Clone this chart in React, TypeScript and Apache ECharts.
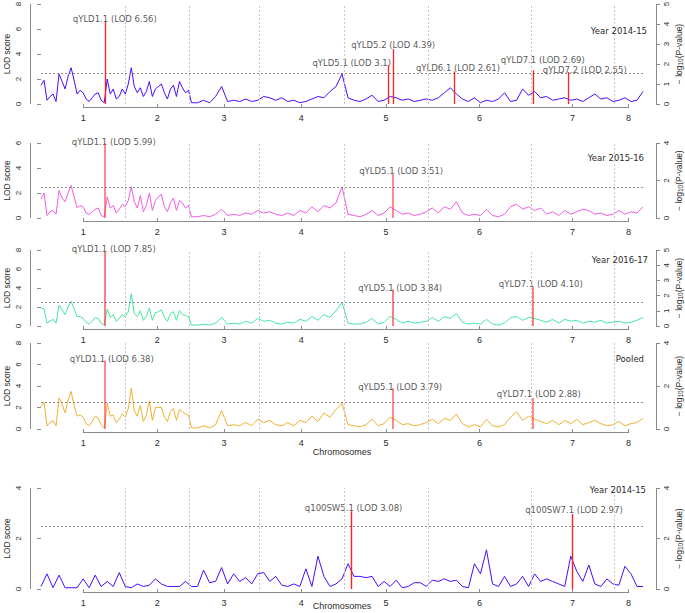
import React, { useEffect, useRef } from "react";
import * as echarts from "echarts";

// ---------- data ----------
const chromLabels = ["1", "2", "3", "4", "5", "6", "7", "8"];
const chromLengths = [140, 106, 116, 141, 140, 171, 138, 48];
const markerStep = 10; // marker spacing of the main scan
const lodThreshold = 2.5;

// main scan, one value every markerStep
const lodYld1415 = [
  1.5, 0.3, 0.8, 2.4, 1.2, 2.9, 0.8, 0.9, 0.2, 0.8,
  0.3, 2.0, 1.2, 0.6, 0.8, 2.9, 0.9, 0.6, 1.8, 1.2,
  1.6, 0.4, 1.5, 1.8, 0.9, 0.1, 0.1, 0.3, 0.1, 0.6,
  1.4, 0.2, 0.3, 0.2, 0.4, 0.2, 0.3, 0.6, 0.5, 0.3,
  0.5, 0.2, 0.3, 0.1, 0.2, 0.4, 0.6, 0.5, 1.0, 1.4,
  2.4, 0.5, 0.3, 0.2, 0.4, 0.7, 0.2, 0.3, 0.6, 0.5,
  0.3, 0.4, 0.2, 0.3, 0.4, 0.3, 0.5, 0.9, 1.3, 0.8,
  0.4, 0.2, 0.5, 0.1, 0.3, 0.2, 0.4, 0.9, 0.2, 0.3,
  1.2, 0.7, 1.0, 0.5, 0.6, 0.3, 0.4, 0.5, 0.3, 0.4,
  0.2, 0.5, 0.8, 0.4, 0.5, 0.2, 0.3, 0.5, 0.2, 0.3,
  1.0,
];
// extra markers in the dense chromosome 1-2 region (half-way between main markers)
const lodYld1415Dense = [
  1.9, 0.6, 0.2, 1.8, 2.2, 1.9, 1.1, 0.4, 0.5, 0.9,
  0.1, 0.8, 0.4, 1.2, 1.6, 1.4, 1.3, 1.0, 0.6, 1.4,
  0.9, 1.2, 0.6, 1.3, 1.1,
];

const lodYld1516 = [
  1.5, 0.2, 0.6, 2.2, 1.3, 2.6, 0.8, 0.9, 0.3, 0.7,
  0.2, 1.7, 1.0, 0.7, 0.9, 2.5, 0.8, 0.5, 2.0, 1.4,
  1.9, 0.5, 1.6, 1.4, 0.8, 0.1, 0.1, 0.2, 0.1, 0.3,
  0.7, 0.2, 0.3, 0.2, 0.4, 0.3, 0.6, 0.4, 0.5, 0.3,
  0.2, 0.4, 0.2, 0.6, 0.4, 0.9, 0.5, 1.0, 0.8, 1.2,
  2.5, 0.3, 0.2, 0.1, 0.3, 0.6, 0.2, 0.4, 0.9, 0.6,
  0.3, 0.4, 0.2, 0.3, 0.5, 0.8, 0.4, 0.9, 0.7, 1.3,
  0.4, 0.2, 0.3, 0.2, 0.7, 0.2, 0.1, 0.3, 0.9, 1.1,
  0.7, 0.9, 0.6, 0.8, 0.3, 0.5, 0.2, 0.6, 0.3, 0.5,
  0.7, 0.6, 0.3, 0.4, 0.2, 0.3, 0.6, 0.3, 0.5, 0.4,
  0.9,
];
const lodYld1516Dense = [
  2.0, 0.5, 0.3, 1.6, 2.0, 1.7, 1.0, 0.4, 0.5, 0.8,
  0.1, 0.8, 0.4, 1.1, 1.4, 1.3, 1.8, 1.0, 0.6, 1.7,
  0.9, 1.2, 0.6, 1.2, 1.0,
];

const lodYld1617 = [
  1.9, 0.3, 0.7, 2.2, 1.2, 2.6, 1.0, 0.8, 0.2, 0.9,
  0.3, 1.8, 1.2, 0.8, 1.0, 3.4, 1.0, 0.6, 1.9, 1.4,
  1.7, 0.5, 1.5, 1.6, 1.1, 0.1, 0.1, 0.2, 0.1, 0.3,
  0.9, 0.2, 0.3, 0.2, 0.5, 0.3, 0.8, 0.5, 0.6, 0.3,
  0.2, 0.4, 0.3, 0.7, 0.5, 1.0, 0.6, 1.2, 0.9, 1.6,
  2.5, 0.3, 0.2, 0.2, 0.4, 0.8, 0.2, 0.4, 1.0, 0.7,
  0.3, 0.5, 0.3, 0.4, 0.5, 0.9, 0.5, 1.0, 0.8, 1.3,
  0.4, 0.2, 0.3, 0.2, 0.7, 0.2, 0.1, 0.3, 0.9, 1.0,
  0.6, 0.9, 0.8, 0.6, 0.4, 0.7, 0.3, 0.7, 0.5, 0.6,
  0.3, 0.5, 0.4, 0.6, 0.3, 0.4, 0.5, 0.3, 0.4, 0.6,
  0.9,
];
const lodYld1617Dense = [
  1.8, 0.5, 0.3, 1.7, 2.0, 1.8, 1.0, 0.4, 0.5, 0.8,
  0.1, 0.9, 0.5, 1.2, 1.5, 1.3, 1.6, 1.0, 0.6, 1.5,
  0.9, 1.3, 0.6, 1.2, 1.0,
];

const lodYldPooled = [
  2.1, 0.3, 0.8, 2.9, 1.5, 3.5, 1.2, 1.1, 0.3, 1.2,
  0.4, 2.4, 1.3, 0.9, 1.1, 3.8, 1.2, 0.7, 2.6, 2.0,
  2.0, 0.7, 1.9, 1.8, 1.4, 0.1, 0.1, 0.3, 0.1, 0.4,
  1.7, 0.3, 0.4, 0.3, 0.6, 0.3, 0.9, 0.6, 0.8, 0.4,
  0.3, 0.6, 0.3, 0.8, 0.6, 1.2, 0.7, 1.5, 1.1, 1.8,
  2.4, 0.4, 0.3, 0.2, 0.4, 0.9, 0.3, 0.5, 1.1, 0.8,
  0.4, 0.5, 0.3, 0.4, 0.6, 0.9, 0.5, 1.0, 0.8, 1.4,
  0.5, 0.2, 0.4, 0.2, 0.9, 0.3, 0.2, 0.4, 1.1, 1.6,
  0.8, 1.2, 0.9, 0.7, 0.5, 0.8, 0.4, 0.8, 0.5, 0.9,
  0.4, 0.6, 0.8, 0.5, 0.3, 0.4, 0.7, 0.3, 0.5, 0.6,
  1.0,
];
const lodYldPooledDense = [
  2.5, 0.6, 0.3, 2.3, 2.7, 2.2, 1.3, 0.5, 0.7, 1.0,
  0.1, 1.2, 0.6, 1.4, 1.9, 1.7, 2.2, 1.3, 0.8, 2.0,
  1.1, 1.6, 0.8, 1.6, 1.3,
];

const lod100sw1415 = [
  0.1, 0.6, 0.05, 0.55, 0.05, 0.05, 0.05, 0.4, 0.05, 0.55,
  0.1, 0.3, 0.1, 0.65, 0.1, 0.05, 0.2, 0.1, 0.15, 0.4,
  0.2, 0.1, 0.1, 0.1, 0.3, 0.1, 0.1, 0.75, 0.25, 0.3,
  0.85, 0.2, 0.6, 0.3, 0.45, 0.2, 0.6, 0.65, 0.3, 0.5,
  0.15, 0.1, 0.2, 0.1, 0.8, 0.1, 1.3, 0.5, 0.1, 0.2,
  0.4, 1.0, 0.5, 0.5, 0.45, 0.5, 0.1, 0.3, 0.1, 0.35,
  0.05, 0.1, 0.25, 0.25, 0.1, 0.35, 0.3, 0.4, 0.3, 0.35,
  0.1, 0.05, 1.0, 0.6, 1.55, 0.2, 0.1, 0.5, 0.1, 0.2,
  0.5, 0.1, 0.6, 0.3, 0.4, 0.3, 0.2, 0.1, 1.3, 0.7,
  0.3, 0.95, 0.2, 0.1, 0.4, 0.2, 0.15, 0.9, 0.6, 0.1,
  0.1,
];
const lod100sw1415Dense: number[] = [];

const qtl1Names = ["qYLD1.1", "qYLD5.1", "qYLD5.2", "qYLD6.1", "qYLD7.1", "qYLD7.2"];
const qtl1Pos = [106, 576, 585, 686, 817, 875];
const qtl1Lod = ["6.56", "3.1", "4.39", "2.61", "2.69", "2.55"];

const qtl2Names = ["qYLD1.1", "qYLD5.1"];
const qtl2Pos = [106, 585];
const qtl2Lod = ["5.99", "3.51"];

const qtl3Names = ["qYLD1.1", "qYLD5.1", "qYLD7.1"];
const qtl3Pos = [106, 585, 817];
const qtl3Lod = ["7.85", "3.84", "4.10"];

const qtl4Names = ["qYLD1.1", "qYLD5.1", "qYLD7.1"];
const qtl4Pos = [106, 585, 817];
const qtl4Lod = ["6.38", "3.79", "2.88"];

const qtl5Names = ["q100SW5.1", "q100SW7.1"];
const qtl5Pos = [516, 882];
const qtl5Lod = ["3.08", "2.97"];

// ---------- layout / style ----------
const W = 685;
const H = 613;
const GRID_LEFT = 41;
const GRID_RIGHT = 42;
const X_OFFSET = 3;
const YL_OFFSET = 11;
const YR_OFFSET = 13;
const AXIS_GREY = "#8a8a8a";
const TXT = "#2a2a2a";
const LABEL_FONT = "DejaVu Sans";
const AXIS_FONT = "Liberation Sans";

const panels = [
  {
    tag: "Year 2014-15", values: lodYld1415, dense: lodYld1415Dense, color: "#4b0aff",
    top: 4, height: 100, lodMax: 8, pMax: 5, pTicks: [0, 1, 2, 3, 4, 5],
    tagTop: 26, tagRight: 38,
    names: qtl1Names, pos: qtl1Pos, lods: qtl1Lod,
    offsets: [[10, 3], [-36, 3], [0, 1], [4, 2], [10, -5], [17, 3]],
    qtlColor: "#ff2020", qtlWidth: 1.3, xName: "", xNameGap: 0,
  },
  {
    tag: "Year 2015-16", values: lodYld1516, dense: lodYld1516Dense, color: "#f25ce2",
    top: 143, height: 75, lodMax: 6, pMax: 4, pTicks: [0, 2, 4],
    tagTop: 153, tagRight: 41,
    names: qtl2Names, pos: qtl2Pos, lods: qtl2Lod,
    offsets: [[9, 4], [8, 2]],
    qtlColor: "rgba(255,60,60,0.6)", qtlWidth: 2, xName: "", xNameGap: 0,
  },
  {
    tag: "Year 2016-17", values: lodYld1617, dense: lodYld1617Dense, color: "#45e6a2",
    top: 250, height: 76, lodMax: 8, pMax: 5, pTicks: [0, 1, 2, 3, 4, 5],
    tagTop: 255, tagRight: 37,
    names: qtl3Names, pos: qtl3Pos, lods: qtl3Lod,
    offsets: [[9, 3], [7, 4], [8, 2]],
    qtlColor: "rgba(255,40,40,0.75)", qtlWidth: 1.6, xName: "", xNameGap: 0,
  },
  {
    tag: "Pooled", values: lodYldPooled, dense: lodYldPooledDense, color: "#f0b030",
    top: 343, height: 86, lodMax: 8, pMax: 4, pTicks: [0, 2, 4],
    tagTop: 354, tagRight: 41,
    names: qtl4Names, pos: qtl4Pos, lods: qtl4Lod,
    offsets: [[7, 4], [7, 4], [6, 1]],
    qtlColor: "rgba(255,60,60,0.6)", qtlWidth: 2, xName: "Chromosomes", xNameGap: 15,
  },
  {
    tag: "Year 2014-15", values: lod100sw1415, dense: lod100sw1415Dense, color: "#4b0aff",
    top: 488, height: 101, lodMax: 4, pMax: 4, pTicks: [0, 2, 4],
    tagTop: 485, tagRight: 39,
    names: qtl5Names, pos: qtl5Pos, lods: qtl5Lod,
    offsets: [[2, 2], [2, 1]],
    qtlColor: "#ff2020", qtlWidth: 1.4, xName: "Chromosomes", xNameGap: 9,
  },
];

// chromosome boundaries and midpoints (cumulative positions)
const chromStarts: number[] = [];
chromLengths.reduce((acc, len) => { chromStarts.push(acc); return acc + len; }, 0);
const genomeEnd = chromLengths.reduce((a, b) => a + b, 0);
const chromMids = chromLengths.map((len, k) => chromStarts[k] + len / 2);
const chromBounds = chromStarts.slice(1);

function scanPoints(values: number[], dense: number[]) {
  const pts = [
    ...values.map((v, k) => [k * markerStep, v]),
    ...dense.map((v, k) => [k * markerStep + markerStep / 2, v]),
  ];
  return pts.sort((a, b) => a[0] - b[0]);
}

function buildOption() {
  const grid: any[] = [];
  const xAxis: any[] = [];
  const yAxis: any[] = [];
  const series: any[] = [];
  const title: any[] = [];

  panels.forEach((p, i) => {
    grid.push({
      left: GRID_LEFT, right: GRID_RIGHT, top: p.top, height: p.height,
      containLabel: false, outerBoundsMode: "none",
    });
    xAxis.push({
      gridIndex: i, type: "value", min: 0, max: genomeEnd, offset: X_OFFSET,
      axisLine: { show: false },
      axisTick: { show: true, length: 4, customValues: chromMids, lineStyle: { color: AXIS_GREY } },
      axisLabel: {
        show: true, customValues: chromMids, margin: 6, fontSize: 9, color: TXT, fontFamily: AXIS_FONT,
        formatter: (v: number) => {
          const k = chromMids.findIndex((m) => Math.abs(m - v) < 0.5);
          return k >= 0 ? chromLabels[k] : "";
        },
      },
      splitLine: { show: false },
      name: p.xName, nameLocation: "middle", nameGap: p.xNameGap, nameMoveOverlap: false,
      nameTextStyle: { fontSize: 9, color: TXT, fontFamily: AXIS_FONT },
    });
    yAxis.push({
      gridIndex: i, type: "value", min: 0, max: p.lodMax, interval: 2, position: "left", offset: YL_OFFSET,
      axisLine: { show: false },
      axisTick: { show: true, length: 4, lineStyle: { color: AXIS_GREY } },
      axisLabel: {
        rotate: 90, margin: 12, fontSize: 8, color: TXT, fontFamily: AXIS_FONT,
        align: "center", verticalAlign: "middle",
      },
      splitLine: { show: false },
      name: "LOD score", nameLocation: "middle", nameGap: 19, nameRotate: 90, nameMoveOverlap: false,
      nameTextStyle: { fontSize: 8.5, color: TXT, fontFamily: AXIS_FONT },
    });
    yAxis.push({
      gridIndex: i, type: "value", min: 0, max: p.pMax, position: "right", offset: YR_OFFSET,
      axisLine: { show: false },
      axisTick: { show: true, length: 4, customValues: p.pTicks, lineStyle: { color: AXIS_GREY } },
      axisLabel: {
        customValues: p.pTicks, rotate: 90, margin: 10, fontSize: 8, color: TXT, fontFamily: AXIS_FONT,
        align: "center", verticalAlign: "middle",
      },
      splitLine: { show: false },
      name: "{a|− log}{b|10}{a|(P-value)}", nameLocation: "middle", nameGap: 17, nameRotate: 90,
      nameMoveOverlap: false,
      nameTextStyle: {
        color: TXT, fontFamily: AXIS_FONT,
        rich: {
          a: { fontSize: 8.5, color: TXT, fontFamily: AXIS_FONT, lineHeight: 11 },
          b: { fontSize: 6.5, color: TXT, fontFamily: AXIS_FONT, verticalAlign: "bottom", lineHeight: 11 },
        },
      },
    });

    series.push({
      type: "line", xAxisIndex: i, yAxisIndex: 2 * i,
      data: scanPoints(p.values, p.dense),
      showSymbol: false, symbol: "none",
      lineStyle: { color: p.color, width: 1 }, itemStyle: { color: p.color },
      z: 2,
      markLine: {
        silent: true, symbol: ["none", "none"], label: { show: false },
        data: [
          ...chromBounds.map((b) => ({ xAxis: b, lineStyle: { type: [2, 2], color: "#c4c4c4", width: 1 } })),
          { yAxis: lodThreshold, lineStyle: { type: [2, 2], color: "#8c8c8c", width: 1 } },
        ],
      },
    });

    series.push({
      type: "scatter", xAxisIndex: i, yAxisIndex: 2 * i,
      symbol: "circle", symbolSize: 0.01, itemStyle: { color: "transparent" },
      z: 4,
      data: p.names.map((n, k) => ({
        value: [p.pos[k], Number(p.lods[k])],
        label: {
          show: true, position: "top", distance: 1, offset: p.offsets[k],
          formatter: `${n} (LOD ${p.lods[k]})`,
          fontSize: 8.5, fontFamily: LABEL_FONT, color: TXT,
        },
      })),
      markLine: {
        silent: true, symbol: ["none", "none"], label: { show: false },
        lineStyle: { color: p.qtlColor, width: p.qtlWidth, type: "solid" },
        data: p.names.map((_, k) => [
          { coord: [p.pos[k], 0] },
          { coord: [p.pos[k], Number(p.lods[k])] },
        ]),
      },
    });

    title.push({
      text: p.tag, right: p.tagRight, top: p.tagTop, padding: 0,
      textStyle: { fontSize: 8.5, fontWeight: "normal", fontFamily: LABEL_FONT, color: TXT },
    });
  });

  return { animation: false, backgroundColor: "#ffffff", title, grid, xAxis, yAxis, series };
}

export default function App() {
  const ref = useRef<HTMLDivElement | null>(null);
  useEffect(() => {
    if (!ref.current) return;
    const chart = echarts.init(ref.current, null, { renderer: "svg", width: W, height: H });
    chart.setOption(buildOption() as any);

    // R-style axis lines: from first to last tick, computed via the chart's own scales
    const gfx: any[] = [];
    const ls = { stroke: AXIS_GREY, lineWidth: 1 };
    panels.forEach((p, i) => {
      const xp = (v: number) => chart.convertToPixel({ xAxisIndex: i } as any, v) as number;
      const yl = (v: number) => chart.convertToPixel({ yAxisIndex: 2 * i } as any, v) as number;
      const yr = (v: number) => chart.convertToPixel({ yAxisIndex: 2 * i + 1 } as any, v) as number;
      const yBase = Math.round(yl(0) + X_OFFSET) + 0.5;
      gfx.push({ type: "line", silent: true, shape: { x1: xp(chromMids[0]), y1: yBase, x2: xp(chromMids[chromMids.length - 1]), y2: yBase }, style: ls });
      const xL = Math.round(xp(0) - YL_OFFSET) + 0.5;
      gfx.push({ type: "line", silent: true, shape: { x1: xL, y1: yl(0), x2: xL, y2: yl(p.lodMax) }, style: ls });
      const xR = Math.round(xp(genomeEnd) + YR_OFFSET) + 0.5;
      gfx.push({ type: "line", silent: true, shape: { x1: xR, y1: yr(0), x2: xR, y2: yr(p.pTicks[p.pTicks.length - 1]) }, style: ls });
    });
    chart.setOption({ graphic: gfx });

    return () => chart.dispose();
  }, []);
  return <div ref={ref} style={{ position: "fixed", left: 0, top: 0, width: W, height: H, background: "#fff" }} />;
}
